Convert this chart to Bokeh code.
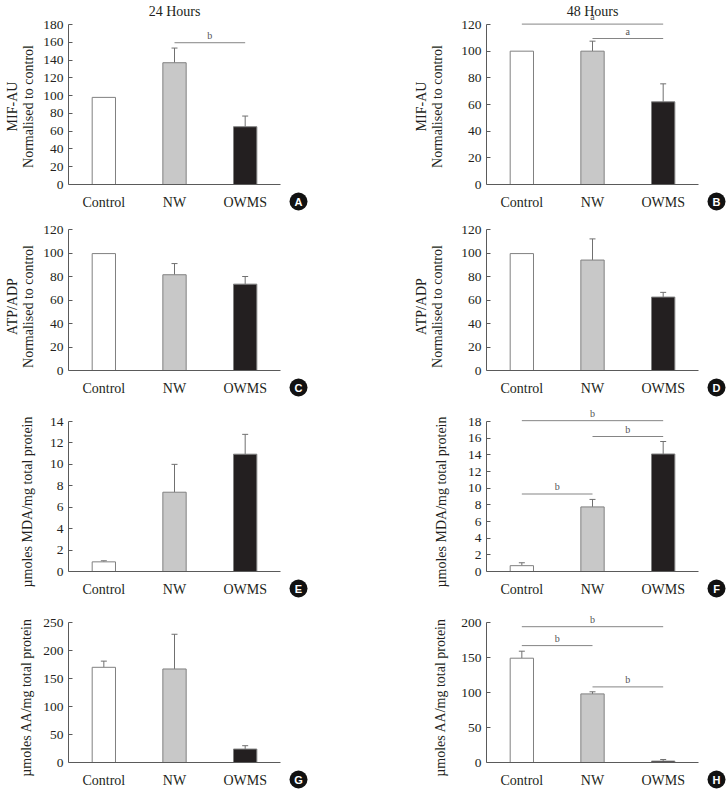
from bokeh.plotting import figure
from bokeh.layouts import column, row
from bokeh.models import (ColumnDataSource, Whisker, TeeHead, Label, Range1d, FixedTicker)
from bokeh.core.properties import value
from bokeh.embed import file_html
from bokeh.resources import INLINE

# ---------------- data ----------------
categories = ["Control", "NW", "OWMS"]

mif_24h = [98, 137, 65]
mif_24h_err = [98, 153.5, 77]
mif_48h = [100, 100, 62]
mif_48h_err = [100, 107.5, 75.5]

atp_24h = [99.5, 81.5, 73.5]
atp_24h_err = [99.5, 91, 80]
atp_48h = [99.5, 94, 62.5]
atp_48h_err = [99.5, 112, 66.5]

mda_24h = [0.9, 7.4, 10.95]
mda_24h_err = [1.0, 10.0, 12.8]
mda_48h = [0.7, 7.75, 14.1]
mda_48h_err = [1.05, 8.65, 15.6]

aa_24h = [170, 167, 24]
aa_24h_err = [181, 229, 30]
aa_48h = [149, 98, 2]
aa_48h_err = [159, 101, 4.3]

# significance bars: (from, to, level, letter)
sig_mif_24h = [("NW", "OWMS", 159.5, "b")]
sig_mif_48h = [("Control", "OWMS", 120.3, "a"), ("NW", "OWMS", 109.5, "a")]
sig_mda_48h = [("Control", "OWMS", 18.1, "b"), ("NW", "OWMS", 16.2, "b"),
               ("Control", "NW", 9.3, "b")]
sig_aa_48h = [("Control", "OWMS", 194, "b"), ("Control", "NW", 167, "b"),
              ("NW", "OWMS", 108, "b")]

# ---------------- style / geometry ----------------
SERIF = "Liberation Serif"
TXT = "#231f20"
AXIS = "#5a5a5a"
BAR_FILLS = ["#ffffff", "#c8c8c8", "#231f20"]
BAR_LINE = "#808080"
ERR = "#707070"
SIG = "#858585"

CAT_PX = 70.67          # pixels per category slot
# rows in page pixels: fig_top, fig_h, zero_px, top_tick_px
ROWS = [
    (0, 212, 184, 24),
    (212, 188, 370, 229),
    (400, 203, 571, 421),
    (603, 188, 762, 622),
]
# columns in page pixels: fig_left, fig_w, axis_px
COLS = {"left": (0, 363, 68), "right": (363, 364, 486)}
TITLE_BASE_PX = 10.5    # page y of the column titles' baseline
BADGE_DX, BADGE_DY = 18, 17


def make_panel(vals, errs, top, step, ylabel, sigs, badge, side, geom,
               ylabel_standoff, title=None):
    fig_top, fig_h, zero_px, tick_px = geom
    fig_left, fig_w, axis_px = COLS[side]
    border_left = axis_px - fig_left
    frame_w = fig_w - border_left
    unit = (zero_px - tick_px) / top
    ncat = len(categories)
    x_end = ncat - 0.5 + (frame_w - ncat * CAT_PX) / CAT_PX
    y_end = (zero_px - fig_top) / unit
    y_start = -(fig_top + fig_h - zero_px) / unit

    p = figure(width=fig_w, height=fig_h,
               x_range=Range1d(-0.5, x_end), y_range=Range1d(y_start, y_end),
               output_backend="svg", toolbar_location=None,
               min_border_left=border_left, min_border_right=0,
               min_border_top=0, min_border_bottom=0)
    p.background_fill_color = "white"
    p.border_fill_color = "white"
    p.outline_line_color = None
    p.xgrid.visible = False
    p.ygrid.visible = False

    xs = list(range(ncat))
    src = ColumnDataSource(dict(x=xs, val=vals, fill=BAR_FILLS))
    p.vbar(x="x", top="val", width=0.33, source=src, fill_color="fill",
           line_color=BAR_LINE, line_width=1)

    idx = [i for i in range(ncat) if errs[i] > vals[i] + 1e-9]
    esrc = ColumnDataSource(dict(base=[xs[i] for i in idx],
                                 lower=[vals[i] for i in idx],
                                 upper=[errs[i] for i in idx]))
    p.add_layout(Whisker(base="base", lower="lower", upper="upper", source=esrc,
                         line_color=ERR, line_width=1, lower_head=None,
                         upper_head=TeeHead(size=6, line_color=ERR, line_width=1)))

    if sigs:
        p.segment(x0=[categories.index(s[0]) for s in sigs], y0=[s[2] for s in sigs],
                  x1=[categories.index(s[1]) for s in sigs], y1=[s[2] for s in sigs],
                  line_color=SIG, line_width=1)
        for a, b, lvl, letter in sigs:
            mid = (categories.index(a) + categories.index(b)) / 2
            p.add_layout(Label(x=mid, y=lvl, y_offset=2, text=letter,
                               text_align="center", text_baseline="bottom",
                               text_font=SERIF, text_font_size="10px",
                               text_color="#555555"))

    if title is not None:
        p.add_layout(Label(x=(ncat - 1) / 2, y=top, y_offset=tick_px - TITLE_BASE_PX,
                           text=title, text_align="center", text_baseline="alphabetic",
                           text_font=SERIF, text_font_size="14px", text_color=TXT))

    bx = ncat - 0.5 + BADGE_DX / CAT_PX
    by = -BADGE_DY / unit
    p.scatter(x=[bx], y=[by], marker="circle", size=18, fill_color="#111111",
              line_color=None)
    p.text(x=[bx], y=[by], text=[badge], text_align="center", text_baseline="middle",
           text_font=value("Liberation Sans"), text_font_style="bold",
           text_font_size="11px", text_color="white")

    ya = p.yaxis[0]
    n = int(round(top / step))
    ya.ticker = FixedTicker(ticks=[k * step for k in range(n + 1)])
    ya.bounds = (0, top)
    ya.axis_line_color = AXIS
    ya.major_tick_line_color = AXIS
    ya.major_tick_in = 4
    ya.major_tick_out = 0
    ya.minor_tick_line_color = None
    ya.major_label_text_font = SERIF
    ya.major_label_text_font_size = "13.5px"
    ya.major_label_text_color = TXT
    ya.major_label_standoff = 5
    ya.axis_label = ylabel
    ya.axis_label_text_font = SERIF
    ya.axis_label_text_font_size = "14px"
    ya.axis_label_text_font_style = "normal"
    ya.axis_label_text_color = TXT
    ya.axis_label_text_line_height = 1.1
    ya.axis_label_standoff = ylabel_standoff

    xa = p.xaxis[0]
    xa.fixed_location = 0
    xa.bounds = (-0.5, ncat - 0.5)
    xa.ticker = FixedTicker(ticks=xs)
    xa.major_label_overrides = {i: c for i, c in zip(xs, categories)}
    xa.axis_line_color = AXIS
    xa.major_tick_line_color = None
    xa.minor_tick_line_color = None
    xa.major_label_text_font = SERIF
    xa.major_label_text_font_size = "14px"
    xa.major_label_text_color = TXT
    xa.major_label_standoff = 4
    return p


pA = make_panel(mif_24h, mif_24h_err, 180, 20, "MIF-AU\nNormalised to control",
                sig_mif_24h, "A", "left", ROWS[0], 4, title="24 Hours")
pB = make_panel(mif_48h, mif_48h_err, 120, 20, "MIF-AU\nNormalised to control",
                sig_mif_48h, "B", "right", ROWS[0], 13, title="48 Hours")
pC = make_panel(atp_24h, atp_24h_err, 120, 20, "ATP/ADP\nNormalised to control",
                [], "C", "left", ROWS[1], 4)
pD = make_panel(atp_48h, atp_48h_err, 120, 20, "ATP/ADP\nNormalised to control",
                [], "D", "right", ROWS[1], 13)
pE = make_panel(mda_24h, mda_24h_err, 14, 2, "µmoles MDA/mg total protein",
                [], "E", "left", ROWS[2], 12)
pF = make_panel(mda_48h, mda_48h_err, 18, 2, "µmoles MDA/mg total protein",
                sig_mda_48h, "F", "right", ROWS[2], 16)
pG = make_panel(aa_24h, aa_24h_err, 250, 50, "µmoles AA/mg total protein",
                [], "G", "left", ROWS[3], 6)
pH = make_panel(aa_48h, aa_48h_err, 200, 50, "µmoles AA/mg total protein",
                sig_aa_48h, "H", "right", ROWS[3], 10)

layout = column(row(pA, pB), row(pC, pD), row(pE, pF), row(pG, pH))

open("out.html", "w").write(file_html(layout, INLINE))
